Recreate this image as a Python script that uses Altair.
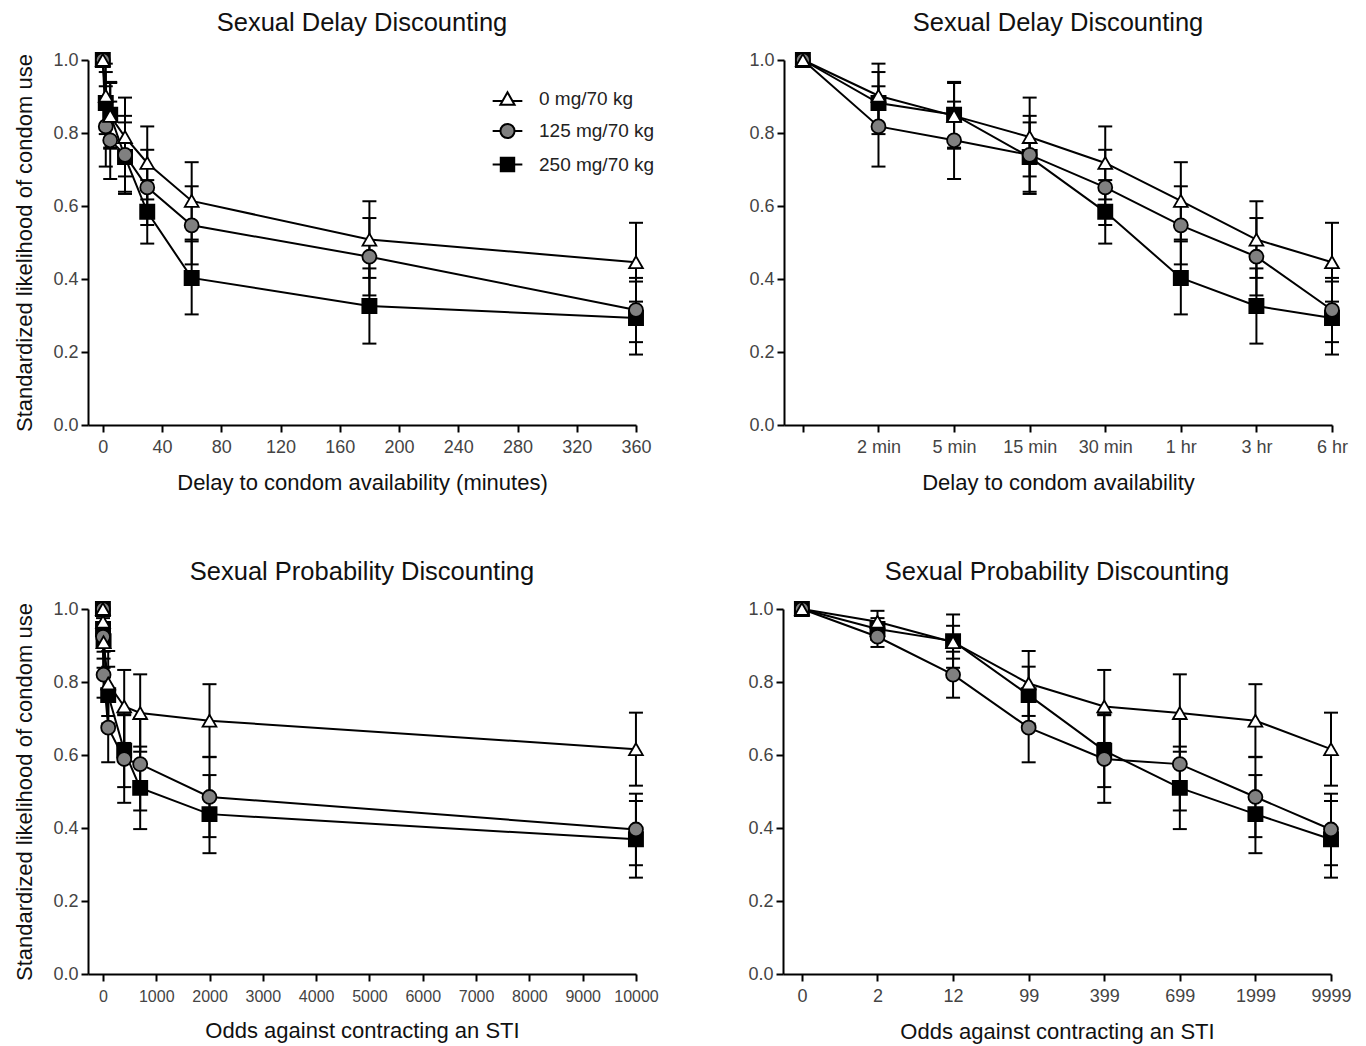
import altair as alt
import pandas as pd

FONT = "Liberation Sans"

doses = ["0 mg/70 kg", "125 mg/70 kg", "250 mg/70 kg"]

delay_minutes = [0, 2, 5, 15, 30, 60, 180, 360]
delay_labels = ["", "2 min", "5 min", "15 min", "30 min", "1 hr", "3 hr", "6 hr"]
odds = [0, 2, 12, 99, 399, 699, 1999, 9999]
odds_labels = ["0", "2", "12", "99", "399", "699", "1999", "9999"]

# Sexual delay discounting (means and SEM)
delay_0 = [1.0, 0.902, 0.847, 0.789, 0.718, 0.614, 0.508, 0.446]
delay_0_err = [0, 0.088, 0.09, 0.108, 0.10, 0.106, 0.105, 0.108]
delay_125 = [1.0, 0.818, 0.78, 0.74, 0.651, 0.547, 0.461, 0.315]
delay_125_err = [0, 0.11, 0.106, 0.107, 0.103, 0.107, 0.106, 0.088]
delay_250 = [1.0, 0.882, 0.85, 0.734, 0.584, 0.403, 0.326, 0.293]
delay_250_err = [0, 0.085, 0.09, 0.095, 0.087, 0.10, 0.103, 0.10]

# Sexual probability discounting (means and SEM)
prob_0 = [1.0, 0.965, 0.909, 0.796, 0.733, 0.715, 0.694, 0.616]
prob_0_err = [0, 0.03, 0.045, 0.089, 0.10, 0.106, 0.10, 0.10]
prob_125 = [1.0, 0.924, 0.82, 0.675, 0.589, 0.575, 0.485, 0.396]
prob_125_err = [0, 0.028, 0.063, 0.095, 0.12, 0.127, 0.11, 0.098]
prob_250 = [1.0, 0.945, 0.912, 0.764, 0.612, 0.51, 0.438, 0.369]
prob_250_err = [0, 0.03, 0.073, 0.078, 0.10, 0.113, 0.107, 0.105]


def build(xvals, series):
    rows = []
    # draw order: 250 first, then 125, then 0 on top
    for dose, (vals, errs) in reversed(list(zip(doses, series))):
        for i, (x, v, e) in enumerate(zip(xvals, vals, errs)):
            rows.append(dict(dose=dose, x=x, idx=i, y=v, lo=v - e, hi=v + e, err=e))
    return pd.DataFrame(rows)


delay_df = build(delay_minutes, [(delay_0, delay_0_err), (delay_125, delay_125_err), (delay_250, delay_250_err)])
prob_df = build(odds, [(prob_0, prob_0_err), (prob_125, prob_125_err), (prob_250, prob_250_err)])
legend_df = pd.DataFrame({"legend_dose": doses, "x": [0] * 3, "y": [0] * 3})

W, H = 548, 365

legend_shapes = [
    "M0,-0.87L1,0.87L-1,0.87Z M-2.1,0.35H-0.7M0.7,0.35H2.1",
    "M-1,0A1,1,0,1,1,1,0A1,1,0,1,1,-1,0Z M-2.1,0H-1M1,0H2.1",
    "M-0.95,-0.95H0.95V0.95H-0.95Z M-2.1,0H-0.95M0.95,0H2.1",
]
fills = ["white", "#808080", "black"]
sizes = [190, 200, 165]


def panel(df, xfield, xdomain, xaxis, title, ytitle, show_legend):
    xenc = alt.X(f"{xfield}:Q", scale=alt.Scale(domain=xdomain, nice=False, zero=False), axis=xaxis)
    yaxis = alt.Axis(title=ytitle, values=[0, 0.2, 0.4, 0.6, 0.8, 1.0], format=".1f")

    def yenc(field):
        return alt.Y(f"{field}:Q", scale=alt.Scale(domain=[0, 1], nice=False), axis=yaxis)

    err = df[df["err"] > 0]
    line = alt.Chart(df).mark_line(color="black", strokeWidth=2).encode(
        x=xenc, y=yenc("y"), detail="dose:N"
    )
    rule = alt.Chart(err).mark_rule(color="black", strokeWidth=2).encode(
        x=xenc, y=yenc("lo"), y2="hi:Q"
    )
    cap_lo = alt.Chart(err).mark_tick(color="black", thickness=2, size=14, orient="horizontal", opacity=1).encode(
        x=xenc, y=yenc("lo")
    )
    cap_hi = alt.Chart(err).mark_tick(color="black", thickness=2, size=14, orient="horizontal", opacity=1).encode(
        x=xenc, y=yenc("hi")
    )
    pts = alt.Chart(df).mark_point(filled=True, stroke="black", strokeWidth=1.8, opacity=1).encode(
        x=xenc,
        y=yenc("y"),
        shape=alt.Shape("dose:N", scale=alt.Scale(domain=doses, range=["triangle-up", "circle", "square"]), legend=None),
        fill=alt.Fill("dose:N", scale=alt.Scale(domain=doses, range=fills), legend=None),
        size=alt.Size("dose:N", scale=alt.Scale(domain=doses, range=sizes), legend=None),
    )
    layers = [line, rule, cap_lo, cap_hi, pts]
    if show_legend:
        legend = alt.Legend(
            title=None, orient="none", legendX=410, legendY=29,
            labelFontSize=19, labelColor="#222", labelFont=FONT,
            symbolSize=200, symbolStrokeWidth=2, symbolStrokeColor="black", symbolOpacity=1,
            labelOffset=22, rowPadding=10.5, padding=0,
        )
        leg = alt.Chart(legend_df).transform_filter("false").mark_point(
            filled=True, size=200, strokeWidth=2, opacity=1
        ).encode(
            x=xenc,
            y=yenc("y"),
            shape=alt.Shape("legend_dose:N", scale=alt.Scale(domain=doses, range=legend_shapes), legend=legend),
            fill=alt.Fill("legend_dose:N", scale=alt.Scale(domain=doses, range=fills), legend=legend),
            stroke=alt.Stroke("legend_dose:N", scale=alt.Scale(domain=doses, range=["black"] * 3), legend=legend),
        )
        layers.append(leg)
    ch = alt.layer(*layers).properties(
        width=W, height=H,
        title=alt.TitleParams(title, fontSize=25.5, fontWeight="normal", font=FONT, color="#111",
                              anchor="middle", frame="group", offset=13),
    )
    if show_legend:
        ch = ch.resolve_scale(shape="independent", fill="independent", stroke="independent", size="independent")
    return ch


idx_delay_expr = "[" + ",".join(f"'{l}'" for l in delay_labels) + "][datum.value]"
idx_odds_expr = "[" + ",".join(f"'{l}'" for l in odds_labels) + "][datum.value]"

tl = panel(delay_df, "x", [-10, 360],
           alt.Axis(title="Delay to condom availability (minutes)", values=list(range(0, 361, 40)), format="d"),
           "Sexual Delay Discounting", "Standardized likelihood of condom use", True)
tr = panel(delay_df, "idx", [-0.25, 7],
           alt.Axis(title="Delay to condom availability", values=list(range(8)), labelExpr=idx_delay_expr),
           "Sexual Delay Discounting", None, False)
bl = panel(prob_df, "x", [-280, 10000],
           alt.Axis(title="Odds against contracting an STI", values=list(range(0, 10001, 1000)), format="d",
                    labelOverlap=False, labelFontSize=16, labelPadding=7.5),
           "Sexual Probability Discounting", "Standardized likelihood of condom use", False)
br = panel(prob_df, "idx", [-0.25, 7],
           alt.Axis(title="Odds against contracting an STI", values=list(range(8)), labelExpr=idx_odds_expr,
                    labelOverlap=False),
           "Sexual Probability Discounting", None, False)

res = dict(shape="independent", fill="independent", stroke="independent", size="independent")
top = alt.hconcat(tl, tr, spacing=93).resolve_scale(**res)
bottom = alt.hconcat(bl, br, spacing=88).resolve_scale(**res)

chart = alt.vconcat(top, bottom, spacing=66).resolve_scale(**res).properties(
    padding={"left": 5, "top": 2, "right": 0, "bottom": 2}
).configure_view(stroke=None).configure_axis(
    grid=False,
    domainColor="black", domainWidth=2,
    tickColor="black", tickWidth=2, tickSize=7,
    labelColor="#444", labelFont=FONT, labelFontSize=18, labelPadding=6,
    titleColor="#111", titleFont=FONT, titleFontSize=22, titleFontWeight="normal",
).configure_axisX(titlePadding=16, labelFlush=False).configure_axisY(labelPadding=3, titlePadding=16)

chart.save("out.html", embed_options={"renderer": "svg", "actions": False})
